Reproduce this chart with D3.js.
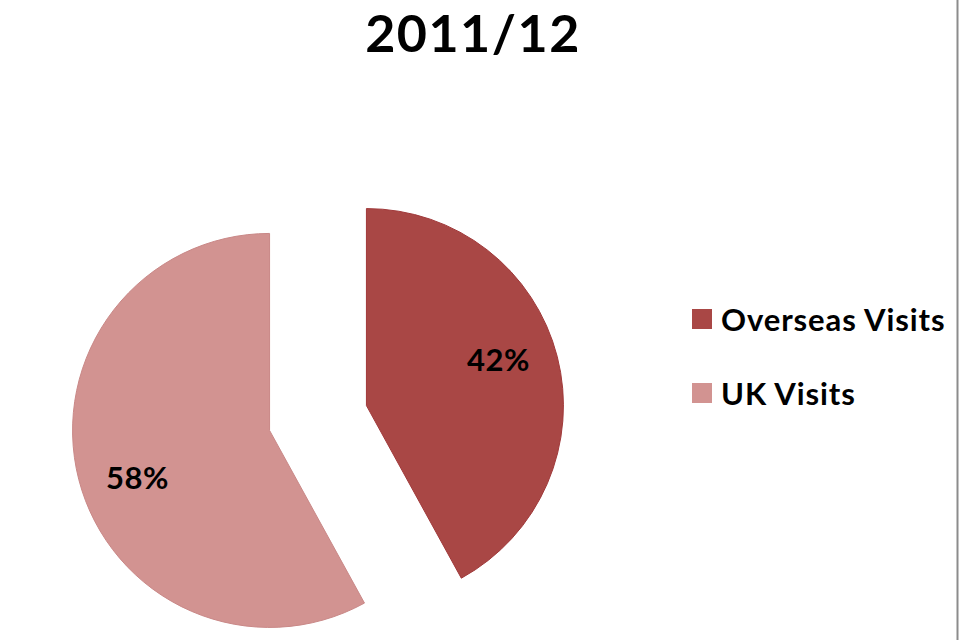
<!DOCTYPE html>
<html>
<head>
<meta charset="utf-8">
<script src="https://cdn.jsdelivr.net/npm/d3@7"></script>
<style>
  html, body { margin: 0; padding: 0; background: #ffffff; }
  svg { display: block; }
  text { font-family: Lato, "Open Sans", sans-serif; font-weight: bold; fill: #000; }
</style>
</head>
<body>
<svg id="chart" width="960" height="640"></svg>
<script>
const title = "2011/12";
const categories = ["Overseas Visits", "UK Visits"];
const values = [42, 58];
const labels = ["42%", "58%"];
const colors = ["#a94745", "#d29391"];
const strokes = ["#a0393a", "#c98887"];

const svg = d3.select("#chart");
const W = 960, H = 640;

// right border line
svg.append("line")
  .attr("x1", 957.5).attr("x2", 957.5).attr("y1", 0).attr("y2", H)
  .attr("stroke", "#8c8c8c").attr("stroke-width", 2);

// title
svg.append("text")
  .attr("x", 473).attr("y", 52)
  .attr("text-anchor", "middle")
  .style("font-size", "52px")
  .style("letter-spacing", "1.5px")
  .text(title);

const cx = 318, cy = 418, R = 197, explode = 50;
const pie = d3.pie().sort(null).startAngle(0).endAngle(2 * Math.PI);
const arcs = pie(values);
const arc = d3.arc().innerRadius(0).outerRadius(R);

const g = svg.append("g").attr("transform", `translate(${cx},${cy})`);

const slices = g.selectAll("g.slice").data(arcs).enter().append("g")
  .attr("class", "slice")
  .attr("transform", d => {
    const a = (d.startAngle + d.endAngle) / 2;
    return `translate(${explode * Math.sin(a)},${-explode * Math.cos(a)})`;
  });

slices.append("path")
  .attr("d", arc)
  .attr("fill", (d, i) => colors[i])
  .attr("stroke", (d, i) => strokes[i])
  .attr("stroke-width", 1);

slices.append("text")
  .attr("x", d => { const a = (d.startAngle + d.endAngle) / 2 - 0.087; return 140 * Math.sin(a); })
  .attr("y", d => { const a = (d.startAngle + d.endAngle) / 2 - 0.087; return -140 * Math.cos(a); })
  .attr("text-anchor", "middle")
  .attr("dominant-baseline", "central")
  .style("font-size", "31px")
  .style("letter-spacing", "0.5px")
  .text((d, i) => labels[i]);

// legend
const legend = svg.append("g").attr("transform", "translate(692,309)");
const items = legend.selectAll("g").data(categories).enter().append("g")
  .attr("transform", (d, i) => `translate(0,${i * 74})`);
items.append("rect")
  .attr("width", 20).attr("height", 20)
  .attr("fill", (d, i) => colors[i]);
items.append("text")
  .attr("x", 29).attr("y", 10)
  .attr("dominant-baseline", "central")
  .style("font-size", "31px")
  .style("letter-spacing", "0.9px")
  .text(d => d);
</script>
</body>
</html>
